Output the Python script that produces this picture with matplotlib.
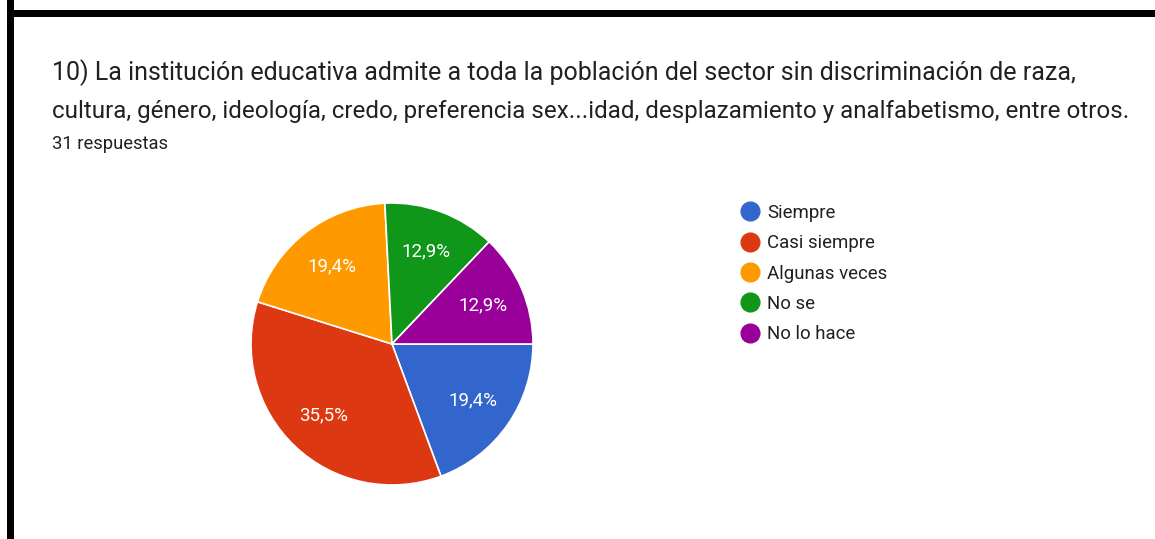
import matplotlib
matplotlib.use("Agg")
import matplotlib.pyplot as plt
from matplotlib.lines import Line2D
from matplotlib.patches import Rectangle

title_line1 = "10) La institución educativa admite a toda la población del sector sin discriminación de raza,"
title_line2 = "cultura, género, ideología, credo, preferencia sex...idad, desplazamiento y analfabetismo, entre otros."
subtitle = "31 respuestas"
categories = ["Siempre", "Casi siempre", "Algunas veces", "No se", "No lo hace"]
counts = [6, 11, 6, 4, 4]
colors = ["#3366CC", "#DC3912", "#FF9900", "#109618", "#990099"]

W, H = 1155, 539
fig = plt.figure(figsize=(W / 100, H / 100), dpi=100)
fig.patch.set_facecolor("white")
plt.rcParams["font.family"] = ["Roboto", "DejaVu Sans"]

def fx(px):
    return px / W

def fy(py):
    return 1 - py / H

# border
fig.add_artist(Rectangle((fx(7), fy(539)), fx(7), 1, transform=fig.transFigure, color="black", lw=0))
fig.add_artist(Rectangle((fx(7), fy(17)), 1, 7 / H, transform=fig.transFigure, color="black", lw=0))

fig.text(fx(52), fy(80), title_line1, fontsize=18.0, color="#202124", va="baseline", ha="left")
fig.text(fx(52), fy(118), title_line2, fontsize=17.4, color="#202124", va="baseline", ha="left")
fig.text(fx(52), fy(149), subtitle, fontsize=13.2, color="#202124", va="baseline", ha="left")

cx, cy, r = 392, 344, 141
ax = fig.add_axes([fx(cx - r), fy(cy + r), 2 * r / W, 2 * r / H])
wedges, texts, autotexts = ax.pie(
    counts, colors=colors, startangle=0, counterclock=False,
    autopct=lambda p: f"{p:.1f}%".replace(".", ","), pctdistance=0.7,
    wedgeprops=dict(edgecolor="white", linewidth=1.2),
    textprops=dict(color="white", fontsize=13.5),
    frame=False, radius=1,
)
ax.set_xlim(-1, 1)
ax.set_ylim(-1, 1)
ax.set_aspect("auto")
ax.axis("off")

handles = [Line2D([], [], marker="o", linestyle="none", markersize=13.5,
                  markerfacecolor=c, markeredgecolor=c) for c in colors]
leg = fig.legend(handles, categories, loc="upper left", bbox_to_anchor=(fx(741), fy(204)),
                 frameon=False, fontsize=13.4, labelspacing=0.66, handletextpad=0.41,
                 handlelength=1.0, borderpad=0, borderaxespad=0, labelcolor="#202124")

fig.savefig("out.png", dpi=100, facecolor="white")
